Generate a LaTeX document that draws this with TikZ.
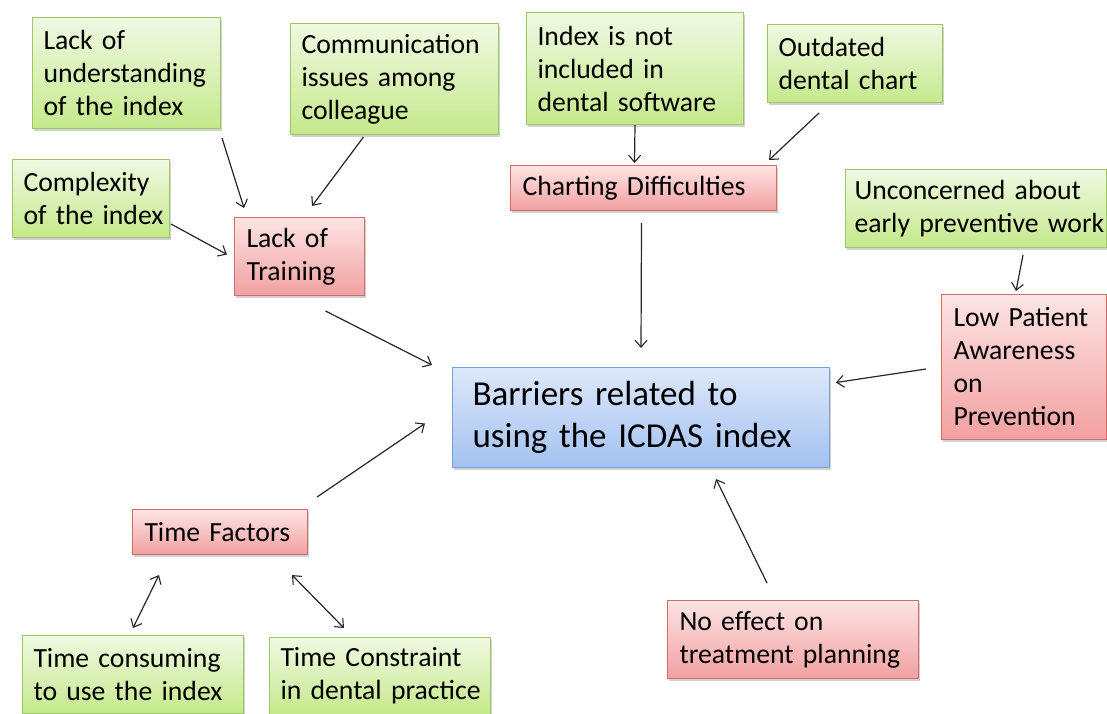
\documentclass[tikz,border=0pt]{standalone}
\usepackage{fontspec}
\setmainfont{Carlito}
\usetikzlibrary{arrows.meta,shadows,calc}
\definecolor{gtop}{HTML}{F0F9E2}
\definecolor{gbot}{HTML}{C4E98B}
\definecolor{gline}{HTML}{9CC763}
\definecolor{rtop}{HTML}{FDE4E4}
\definecolor{rbot}{HTML}{F2A0A0}
\definecolor{rline}{HTML}{D46A6A}
\definecolor{btop}{HTML}{DDE8FB}
\definecolor{bbot}{HTML}{A3C1F0}
\definecolor{bline}{HTML}{7A9ED6}
\newcommand{\li}[1]{\mbox{#1}}
\tikzset{
  boxbase/.style={rectangle, anchor=north west, align=left, line width=1pt,
    inner ysep=0pt, text=black,
    drop shadow={shadow xshift=1.2pt, shadow yshift=-2.2pt, opacity=.3, fill=black!60}},
  gbox/.style={boxbase, draw=gline, top color=gtop, bottom color=gbot,
    inner xsep=11pt, font=\fontsize{27.7}{33}\selectfont},
  rbox/.style={boxbase, draw=rline, top color=rtop, bottom color=rbot,
    inner xsep=12pt, font=\fontsize{27.7}{33}\selectfont},
  bbox/.style={boxbase, draw=bline, top color=btop, bottom color=bbot,
    inner xsep=20pt, font=\fontsize{35}{42}\selectfont},
  conn/.style={line width=1.2pt, draw=black!85, -{Straight Barb[length=7pt,width=12pt,line width=1.1pt]}},
  dconn/.style={conn, {Straight Barb[length=7pt,width=12pt,line width=1.1pt]}-{Straight Barb[length=7pt,width=12pt,line width=1.1pt]}}
}
\begin{document}
\begin{tikzpicture}[x=1pt,y=-1pt]
\useasboundingbox (0,0) rectangle (1107,713);
% green boxes
\node[gbox, text width=166pt, minimum height=111pt] (lou) at (32,17) {\li{Lack of}\\\li{understanding}\\\li{of the index}};
\node[gbox, text width=186pt, minimum height=111pt] (com) at (290,23) {\li{Communication}\\\li{issues among}\\\li{colleague}};
\node[gbox, text width=135pt, minimum height=78pt] (cpx) at (12,159) {\li{Complexity}\\\li{of the index}};
\node[gbox, text width=195pt, minimum height=112pt] (inc) at (526,12) {\li{Index is not}\\\li{included in}\\\li{dental software}};
\node[gbox, text width=153pt, minimum height=78pt] (out) at (767,24) {\li{Outdated}\\\li{dental chart}};
\node[gbox, inner xsep=9pt, text width=243pt, minimum height=78pt] (unc) at (845,169) {\li{Unconcerned about}\\\li{early preventive work}};
\node[gbox, text width=199pt, minimum height=78pt] (tcu) at (22,635) {\li{Time consuming}\\\li{to use the index}};
\node[gbox, text width=199pt, minimum height=77pt] (tco) at (269,637) {\li{Time Constraint}\\\li{in dental practice}};
% red boxes
\node[rbox, text width=106pt, minimum height=78pt] (lot) at (234,217) {\li{Lack of}\\\li{Training}};
\node[rbox, text width=242pt, minimum height=45pt] (chd) at (510,165) {\li{Charting Difficulties}};
\node[rbox, text width=141pt, minimum height=145pt] (lpa) at (941,294) {\li{Low Patient}\\\li{Awareness}\\\li{on}\\\li{Prevention}};
\node[rbox, text width=151pt, minimum height=45pt] (tf) at (132,509) {\li{Time Factors}};
\node[rbox, text width=227pt, minimum height=78pt] (nef) at (667,600) {\li{No effect on}\\\li{treatment planning}};
% blue box
\node[bbox, text width=337pt, minimum height=100pt] (bar) at (452,367) {\li{Barriers related to}\\\li{using the ICDAS index}};
% connectors
\draw[conn] ($(lou.south east)+(1,9)$) -- ($(lot.north west)+(10,-9)$);
\draw[conn] ($(com.south)+(-31,2)$) -- ($(lot.north east)+(-53,-11)$);
\draw[conn] ($(cpx.south east)+(1,-14)$) -- ($(lot.west)+(-7,-2)$);
\draw[conn] ($(lot.south)+(26,15)$) -- ($(bar.north west)+(-20,-2)$);
\draw[conn] (inc.south) -- ($(chd.north)+(-9,-2)$);
\draw[conn] ($(out.south)+(-36,10)$) -- ($(chd.north east)+(-8,-5)$);
\draw[conn] ($(chd.south)+(-2,12)$) -- ($(bar.north)+(0,-19)$);
\draw[conn] ($(unc.south)+(47,7)$) -- ($(lpa.north)+(-8,-3)$);
\draw[conn] ($(lpa.west)+(-15,2)$) -- ($(bar.east)+(6,-35)$);
\draw[conn] ($(tf.north east)+(9,-12)$) -- ($(bar.west)+(-27,6)$);
\draw[conn] ($(nef.north)+(-26,-17)$) -- ($(bar.south)+(75,11)$);
\draw[dconn] ($(tf.south)+(-61,20)$) -- ($(tcu.north)+(0,-7)$);
\draw[dconn] ($(tf.south east)+(-16,20)$) -- ($(tco.north)+(-36,-9)$);
\end{tikzpicture}
\end{document}
